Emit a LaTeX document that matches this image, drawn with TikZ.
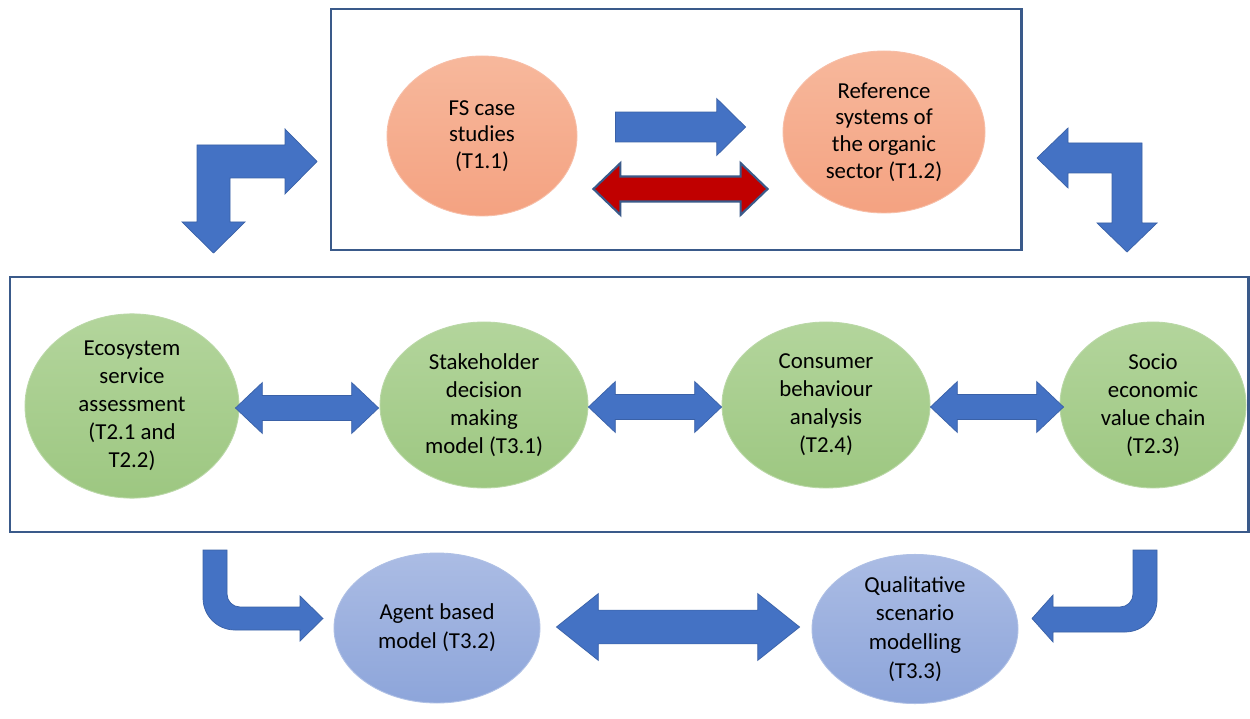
\documentclass[tikz,border=0pt]{standalone}
\usepackage{fontspec}
\setmainfont{Carlito}
\usetikzlibrary{shapes.geometric,calc}

\definecolor{framecol}{HTML}{3A5A8A}
\definecolor{arrowblue}{HTML}{4472C4}
\definecolor{arrowred}{HTML}{C00000}
\definecolor{salmontop}{HTML}{F7B89C}
\definecolor{salmonbot}{HTML}{F4A281}
\definecolor{greentop}{HTML}{B3D59C}
\definecolor{greenbot}{HTML}{9DC781}
\definecolor{bluetop}{HTML}{ABBCE4}
\definecolor{bluebot}{HTML}{8DA5DA}

\tikzset{
    task/.style={ellipse,inner sep=0pt,align=center,draw=white!30!#1,line width=0.5pt,
        font=\fontsize{13}{15.5}\selectfont},
    orangetask/.style={task=salmonbot,top color=salmontop,bottom color=salmonbot,
        font=\fontsize{13}{15.2}\selectfont},
    greentask/.style={task=greenbot,top color=greentop,bottom color=greenbot,
        font=\fontsize{13}{16}\selectfont},
    bluetask/.style={task=bluebot,top color=bluetop,bottom color=bluebot,
        font=\fontsize{13}{16.4}\selectfont},
    frame/.style={draw=framecol,line width=1.7pt},
    blockarrow/.style={fill=arrowblue,draw=arrowblue!85!black,line width=0.4pt,line join=miter},
    redarrow/.style={fill=arrowred,draw=framecol,line width=1.2pt,line join=miter},
}

% block arrows between two points: style, left end, right end, shaft half, head half, head length
\newcommand{\harrow}[6]{%
  \path[#1] let \p1=#2, \p2=#3 in
    (\x1,\y1+#4) -- (\x2-#6,\y1+#4) -- (\x2-#6,\y1+#5) -- (\x2,\y1)
    -- (\x2-#6,\y1-#5) -- (\x2-#6,\y1-#4) -- (\x1,\y1-#4) -- cycle;}
\newcommand{\hdblarrow}[6]{%
  \path[#1] let \p1=#2, \p2=#3 in
    (\x1,\y1) -- (\x1+#6,\y1+#5) -- (\x1+#6,\y1+#4) -- (\x2-#6,\y1+#4) -- (\x2-#6,\y1+#5)
    -- (\x2,\y1) -- (\x2-#6,\y1-#5) -- (\x2-#6,\y1-#4) -- (\x1+#6,\y1-#4) -- (\x1+#6,\y1-#5) -- cycle;}

\begin{document}
\begin{tikzpicture}[x=0.02cm,y=-0.02cm]
    \useasboundingbox[fill=white] (0,0) rectangle (1250,719);

    % frames
    \draw[frame] (331,9) rectangle (1021,250);
    \draw[frame] (10,277) rectangle (1248,532);

    % top row
    \node[orangetask,minimum width=190*0.02cm,minimum height=160*0.02cm] (fs) at (482,136)
        {FS case\\studies\\(T1.1)};
    \node[orangetask,minimum width=202*0.02cm,minimum height=162*0.02cm] (ref) at (884,132)
        {Reference\\systems of\\the organic\\sector (T1.2)};

    % middle row
    \node[greentask,minimum width=214*0.02cm,minimum height=168*0.02cm] (eco) at (132,406)
        {Ecosystem\\service\\assessment\\(T2.1 and\\T2.2)};
    \node[greentask,minimum width=208*0.02cm,minimum height=166*0.02cm] (stake) at (484,405)
        {Stakeholder\\decision\\making\\model (T3.1)};
    \node[greentask,minimum width=208*0.02cm,minimum height=166*0.02cm] (cons) at (826,405)
        {Consumer\\behaviour\\analysis\\(T2.4)};
    \node[greentask,minimum width=186*0.02cm,minimum height=166*0.02cm] (socio) at (1153,405)
        {Socio\\economic\\value chain\\(T2.3)};

    % bottom row
    \node[bluetask,minimum width=206*0.02cm,minimum height=150*0.02cm] (agent) at (437,628)
        {Agent based\\model (T3.2)};
    \node[bluetask,minimum width=206*0.02cm,minimum height=148*0.02cm] (qual) at (915,629)
        {Qualitative\\scenario\\modelling\\(T3.3)};

    % straight arrows
    \harrow{blockarrow}{($(fs.east)+(38,-9)$)}{($(ref.west)+(-37,-5)$)}{8.5pt}{16.2pt}{16.4pt}
    \hdblarrow{redarrow}{($(fs.east)+(16,53)$)}{($(ref.west)+(-15,57)$)}{7.1pt}{14.7pt}{15.3pt}
    \hdblarrow{blockarrow}{($(eco.east)+(-4,2)$)}{($(stake.west)+(-1,2)$)}{7.1pt}{14.5pt}{15.3pt}
    \hdblarrow{blockarrow}{($(stake.east)+(0,2)$)}{($(cons.west)+(0,2)$)}{7.1pt}{14.5pt}{15.3pt}
    \hdblarrow{blockarrow}{($(cons.east)+(0,2)$)}{($(socio.west)+(4,2)$)}{7.1pt}{14.5pt}{15.3pt}
    \hdblarrow{blockarrow}{($(agent.east)+(16,-1)$)}{($(qual.west)+(-12,-2)$)}{9.6pt}{19pt}{23.8pt}

    % bent arrows between the frames
    \path[blockarrow] (197,145) -- (285,145) -- (285,129) -- (317,161.5) -- (285,194) -- (285,178)
        -- (230,178) -- (230,222) -- (245,222) -- (213.5,253) -- (182,222) -- (197,222) -- cycle;
    \path[blockarrow] (1142,143) -- (1068,143) -- (1068,128) -- (1037,158) -- (1068,188) -- (1068,173)
        -- (1112,173) -- (1112,223) -- (1097,223) -- (1127,252) -- (1157,223) -- (1142,223) -- cycle;

    % rounded arrows to the bottom row
    \path[blockarrow] (203,550) -- (203,598) to[out=-90,in=180] (235,630) -- (300,630) -- (300,641)
        -- (323,618.5) -- (300,596) -- (300,607) -- (240,607) to[out=180,in=-90] (227,594)
        -- (227,550) -- cycle;
    \path[blockarrow] (1157,550) -- (1157,600) to[out=-90,in=0] (1125,632) -- (1053,632) -- (1053,642)
        -- (1032,618.5) -- (1053,595) -- (1053,607) -- (1120,607) to[out=0,in=-90] (1133,594)
        -- (1133,550) -- cycle;
\end{tikzpicture}
\end{document}
